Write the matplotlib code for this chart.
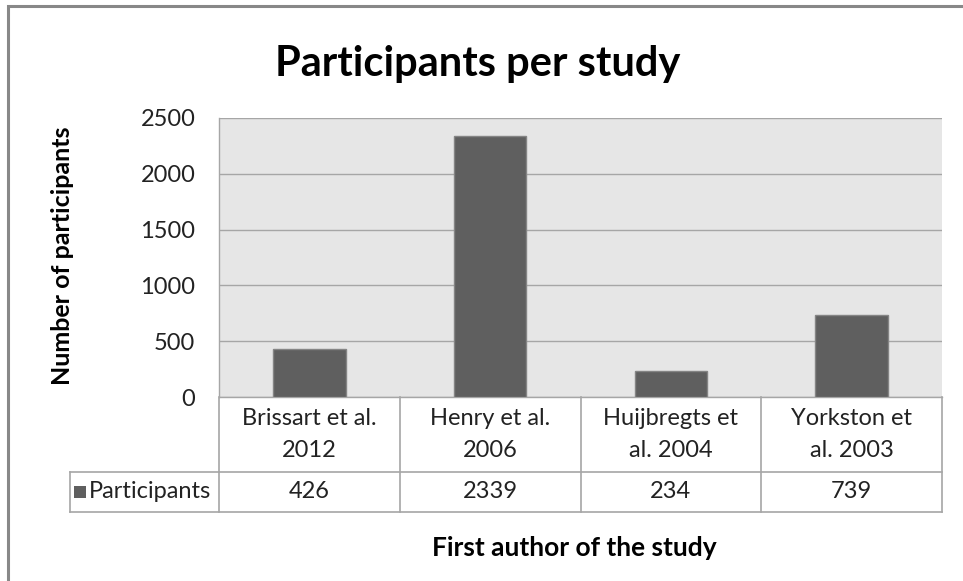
import matplotlib.pyplot as plt
from matplotlib.patches import Rectangle
from matplotlib.transforms import blended_transform_factory

plt.rcParams["font.family"] = ["Lato", "DejaVu Sans"]

# study data
studies = ["Brissart et al.\n2012", "Henry et al.\n2006", "Huijbregts et\nal. 2004", "Yorkston et\nal. 2003"]
participants = [426, 2339, 234, 739]
series_name = "Participants"
y_ticks = [0, 500, 1000, 1500, 2000, 2500]

bar_color = "#5f5f5f"
line_color = "#a6a6a6"
text_color = "#222222"
fs = 17

W, H = 963, 581
fig = plt.figure(figsize=(W / 100, H / 100), dpi=100)

# plot area in pixel terms
left, right, top, bottom = 219, 942, 118, 397
ax = fig.add_axes([left / W, 1 - bottom / H, (right - left) / W, (bottom - top) / H])
ax.set_facecolor("#e6e6e6")

x = range(len(studies))
ax.bar(x, participants, width=0.4, color=bar_color, edgecolor="#858585", linewidth=1, zorder=3)
ax.set_xlim(-0.5, len(studies) - 0.5)
ax.set_ylim(0, 2500)
ax.set_yticks(y_ticks)
ax.tick_params(axis="y", length=0, pad=17, labelsize=fs, colors=text_color)
ax.set_xticks([])
ax.grid(axis="y", color=line_color, linewidth=1, zorder=1)
for side in ["top", "right"]:
    ax.spines[side].set_visible(False)
for side in ["left", "bottom"]:
    ax.spines[side].set_color(line_color)
    ax.spines[side].set_linewidth(1)

# data table beneath the axis
tr = blended_transform_factory(ax.transData, ax.transAxes)
px = (bottom - top)
unit = (right - left) / len(studies)
row1 = -(472 - bottom) / px
row2 = -(512 - bottom) / px
x_left = -0.5 - (left - 70) / unit
x_end = len(studies) - 0.5
kw = dict(transform=tr, color=line_color, linewidth=1.2, clip_on=False)
ax.plot([-0.5, x_end], [row1, row1], **kw)
ax.plot([x_left, -0.5], [row1, row1], **kw)
ax.plot([x_left, x_end], [row2, row2], **kw)
ax.plot([x_left, x_left], [row1, row2], **kw)
for b in range(len(studies) + 1):
    ax.plot([b - 0.5, b - 0.5], [0, row2], **kw)

for i, (name, val) in enumerate(zip(studies, participants)):
    ax.text(i, row1 / 2, name, transform=tr, ha="center", va="center",
            fontsize=fs, color=text_color, linespacing=1.6)
    ax.text(i, (row1 + row2) / 2, str(val), transform=tr, ha="center", va="center",
            fontsize=fs, color=text_color)

sq_w = 12 / unit
sq_h = 12 / px
ax.add_patch(Rectangle((x_left + 4 / unit, (row1 + row2) / 2 - sq_h / 2), sq_w, sq_h,
                       transform=tr, facecolor=bar_color, edgecolor="none", clip_on=False))
ax.text(x_left + 19 / unit, (row1 + row2) / 2, series_name, transform=tr,
        ha="left", va="center", fontsize=fs, color=text_color)

# titles
fig.text(478 / W, 1 - 64 / H, "Participants per study", ha="center", va="center",
         fontsize=30, fontweight="bold")
fig.text(62 / W, 1 - 256 / H, "Number of participants", ha="center", va="center",
         rotation=90, fontsize=18, fontweight="bold")
fig.text(574 / W, 1 - 548 / H, "First author of the study", ha="center", va="center",
         fontsize=19, fontweight="bold")

# chart frame
fig.add_artist(Rectangle((8 / W, -0.2), 1.5, 1.2 - 6 / H, transform=fig.transFigure,
                         facecolor="none", edgecolor="#888888", linewidth=2.2))

fig.savefig("out.png", dpi=100)
